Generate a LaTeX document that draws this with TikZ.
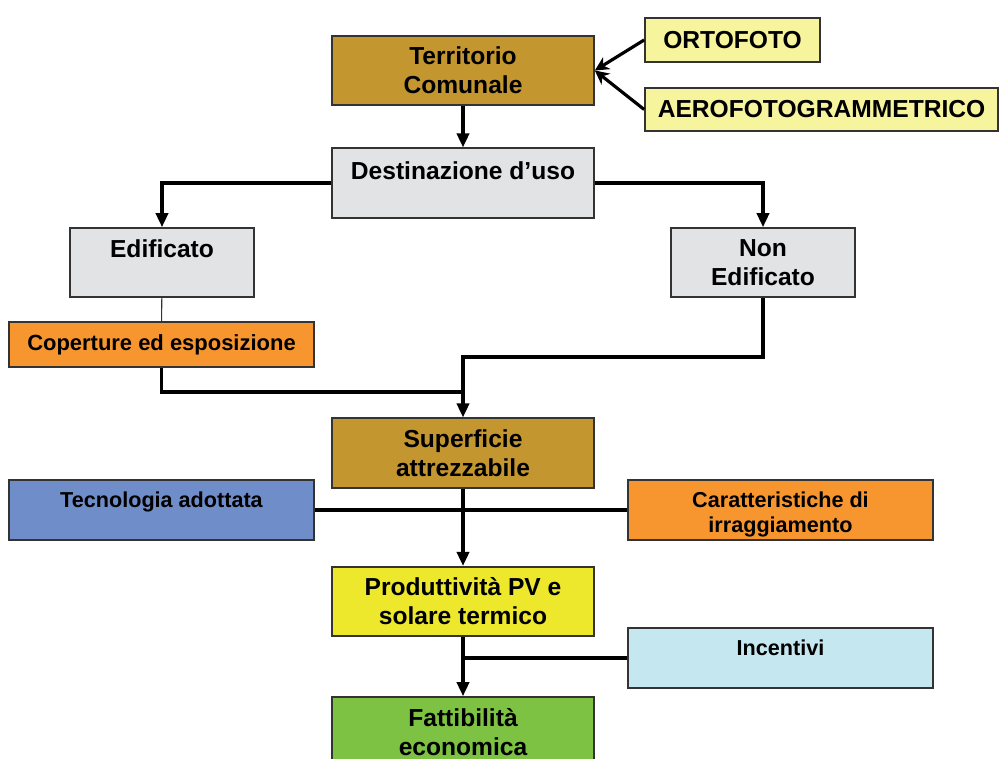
\documentclass[tikz,border=0pt]{standalone}
\usepackage{fontspec}
\setmainfont{Liberation Sans}
\usetikzlibrary{arrows.meta, positioning, calc}

\definecolor{cgold}{HTML}{C4962F}
\definecolor{cpale}{HTML}{F7F49E}
\definecolor{cgray}{HTML}{E2E3E5}
\definecolor{corange}{HTML}{F7962F}
\definecolor{cblue}{HTML}{6F8DC9}
\definecolor{cyellow}{HTML}{EDE82B}
\definecolor{clblue}{HTML}{C5E7F0}
\definecolor{cgreen}{HTML}{7DC242}

\begin{document}
\begin{tikzpicture}[
  x=0.02cm, y=-0.02cm,
  box/.style={draw=black!80, line width=1pt, align=center, inner sep=0pt,
    font=\bfseries\fontsize{14}{16.4}\selectfont},
  wide/.style={box, minimum width=5.24cm, minimum height=1.39cm},
  side/.style={box, minimum width=6.1cm, minimum height=1.2cm,
    font=\bfseries\fontsize{12.3}{14.2}\selectfont},
  lbl/.style={anchor=north, yshift=-0.24cm, inner sep=0pt, align=center,
    font=\bfseries\fontsize{14}{16.4}\selectfont},
  slbl/.style={lbl, font=\bfseries\fontsize{12.3}{14.2}\selectfont},
  arrow/.style={-{Triangle[width=7pt,length=8pt]}, line width=1.8pt},
  tip/.style={-{Stealth[width=8pt,length=8pt]}, line width=1.8pt},
  link/.style={line width=1.8pt},
  thinlink/.style={line width=0.6pt, draw=black!80}
]
\useasboundingbox (0,0) rectangle (1000,759);
\clip (0,0) rectangle (1000,759);

% sources
\node[wide, fill=cgold] (terr) at (463,70.5) {Territorio\\Comunale};
\node[box, fill=cpale, minimum width=3.5cm, minimum height=0.88cm] (orto) at (732.5,40) {ORTOFOTO};
\node[box, fill=cpale, minimum width=7.06cm, minimum height=0.86cm] (aero) at (821.5,109.5) {AEROFOTOGRAMMETRICO};

% land use
\node[wide, fill=cgray, label={[lbl, yshift=-0.04cm]north:Destinazione d’uso}] (dest) at (463,183) {};
\node[box, fill=cgray, minimum width=3.68cm, minimum height=1.38cm,
  label={[lbl]north:Edificato}] (edi) at (162,262.5) {};
\node[box, fill=cgray, minimum width=3.68cm, minimum height=1.38cm,
  label={[lbl]north:Non\\Edificato}] (nonedi) at (763,262.5) {};
\node[side, fill=corange, minimum height=0.9cm,
  font=\bfseries\fontsize{12.5}{14}\selectfont] (cop) at (161.5,344.5) {Coperture ed esposizione};

% surface and production
\node[wide, fill=cgold] (sup) at (463,453) {Superficie\\attrezzabile};
\node[side, fill=cblue, label={[slbl]north:Tecnologia adottata}] (tec) at (161.5,510) {};
\node[side, fill=corange, label={[slbl]north:Caratteristiche di\\irraggiamento}] (car) at (780.5,510) {};
\node[wide, fill=cyellow] (prod) at (463,601.5) {Produttività PV e\\solare termico};
\node[side, fill=clblue, label={[slbl]north:Incentivi}] (inc) at (780.5,658) {};
\node[wide, fill=cgreen, minimum height=1.4cm] (fatt) at (463,732) {Fattibilità\\economica};

% connectors
\coordinate (jcop) at (463,392);
\coordinate (jnon) at (463,357);
\draw[tip] (orto.west) -- (terr.east);
\draw[tip] (aero.west) -- (terr.east);
\draw[arrow] (terr) -- (dest);
\draw[arrow] (dest.west) -| (edi.north);
\draw[arrow] (dest.east) -| (nonedi.north);
\draw[thinlink] (edi) -- (cop);
\draw[link] (cop.south) |- (jcop);
\draw[arrow] (nonedi.south) |- (jnon) -- (sup.north);
\draw[link] (tec.east) -- (car.west);
\draw[arrow] (sup) -- (prod);
\draw[link] (inc.west) -- (inc.west -| prod.south);
\draw[arrow] (prod) -- (fatt);
\end{tikzpicture}
\end{document}
